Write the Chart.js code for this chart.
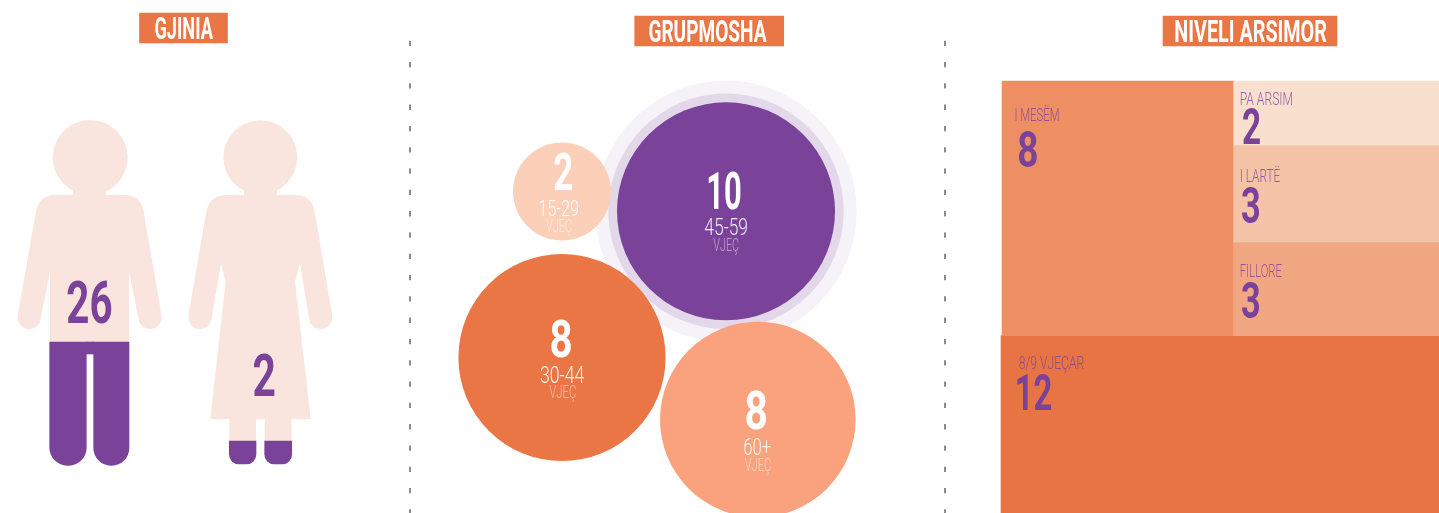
<!DOCTYPE html>
<html><head><meta charset="utf-8">
<style>html,body{margin:0;padding:0;background:#fff;overflow:hidden}#c{display:block}</style>
<script src="https://cdn.jsdelivr.net/npm/chart.js@4/dist/chart.umd.min.js"></script>
</head><body><div style="width:1439px;height:513px"><canvas id="c" width="1439" height="513"></canvas></div>
<script>
// ---- values ----
const panelTitles = ['GJINIA','GRUPMOSHA','NIVELI ARSIMOR'];
const genderValues = [26, 2];
const ageLabels = ['15-29','45-59','30-44','60+'];
const ageValues = [2, 10, 8, 8];
const ageUnit = 'VJEÇ';
const eduLabels = ['I MESËM','PA ARSIM','I LARTË','FILLORE','8/9 VJEÇAR'];
const eduValues = [8, 2, 3, 3, 12];

// ---- layout (pixel-mapped axis units) ----
const ORANGE='#EA7645', PURPLE='#7A4299', PEACH='#FAE5DE';
const titleBoxes=[[139.5,227.5,13,43],[634.7,783.7,16,46],[1163,1337,16,46]];
const titleText=[[155,213,17,39],[649,766.7,20,42],[1175,1327,20,42]];
const ageCircles=[[562,191.5,49,'#FCCFB9'],[726,211.3,109,PURPLE],[562,357.5,103.6,ORANGE],[757.8,419.5,97.8,'#F9A27D']];
const eduRects=[[1002,1233,81,335.7,'#EE8F63'],[1233,1439,81,145,'#F9DFCD'],[1233,1439,145,242,'#F5C3A8'],[1233,1439,242,335.7,'#F2A783'],[1001,1439,335.7,513,'#E97443']];
const dividers=[410,945];

const rectSet=(x0,x1,y0,y1,color,radius,extra)=>Object.assign({type:'bar',grouped:false,
  data:[{x:(x0+x1)/2,y:[y0,y1]}],barThickness:x1-x0,backgroundColor:color,borderWidth:0,borderSkipped:false,
  borderRadius:radius||0},extra||{});
const bottomR=r=>({topLeft:0,topRight:0,bottomLeft:r,bottomRight:r});

const datasets=[];
// panel title boxes
titleBoxes.forEach((b,i)=>datasets.push(rectSet(b[0],b[1],b[2],b[3],ORANGE,0,{label:panelTitles[i]})));
// treemap
eduRects.forEach((r,i)=>datasets.push(rectSet(r[0],r[1],r[2],r[3],r[4],0,{label:eduLabels[i]})));
// dividers
dividers.forEach(x=>datasets.push({type:'line',data:[{x,y:40.7},{x,y:513}],borderColor:'#666',borderWidth:1.5,borderDash:[5.3,16],pointRadius:0,fill:false}));
// people heads
datasets.push({type:'bubble',data:[{x:90.2,y:157.5,r:37.5},{x:260.3,y:157.3,r:37}],backgroundColor:PEACH,borderWidth:0,order:0});
// purple clothing, as filled part of the pictograms
datasets.push(rectSet(49.7,86.3,342,465.3,PURPLE,bottomR(18),{label:'M'}));
datasets.push(rectSet(93.7,129,342,465.3,PURPLE,bottomR(18)));
datasets.push(rectSet(86,94,342,354,PURPLE));
datasets.push(rectSet(229.3,256,441,464,PURPLE,bottomR(10)));
datasets.push(rectSet(264.7,291.7,441,464,PURPLE,bottomR(10)));
// halo rings + age bubbles (drawn in listed order)
datasets.push({type:'bubble',order:-1,data:[{x:726,y:211.3,r:130.7}],backgroundColor:'#F5F2F8',borderWidth:0});
datasets.push({type:'bubble',order:-2,data:[{x:726,y:211.3,r:117.7}],backgroundColor:'#E2D8E9',borderWidth:0});
ageCircles.forEach((c,i)=>datasets.push({type:'bubble',order:-3-i,label:ageLabels[i],data:[{x:c[0],y:c[1],r:c[2]}],backgroundColor:c[3],borderWidth:0}));
datasets.forEach(d=>{ if(d.order===undefined) d.order=1; });

// condensed text: fit real text to a measured ink box
function fit(ctx,str,x0,x1,top,bottom,color,weight){
  const size=(bottom-top)/0.711;
  ctx.save();
  ctx.font=(weight||400)+' '+size+'px Roboto';
  ctx.textBaseline='alphabetic';ctx.textAlign='left';
  const m=ctx.measureText(str);
  const ink=m.actualBoundingBoxRight+m.actualBoundingBoxLeft;
  const sx=(x1-x0)/ink;
  ctx.translate(x0,bottom);ctx.scale(sx,1);
  ctx.fillStyle=color;
  ctx.fillText(str,m.actualBoundingBoxLeft,0);
  ctx.restore();
}
const peoplePlugin={id:'people',beforeDatasetsDraw(chart){
  const {ctx,scales:{x,y}}=chart;
  const X=v=>x.getPixelForValue(v),Y=v=>y.getPixelForValue(v);
  ctx.save();ctx.fillStyle=PEACH;
  // man
  ctx.beginPath();
  ctx.moveTo(X(73),Y(188));ctx.lineTo(X(106),Y(188));ctx.lineTo(X(106),Y(195));ctx.lineTo(X(125),Y(195));
  ctx.quadraticCurveTo(X(141),Y(195),X(144),Y(213));
  ctx.lineTo(X(161.4),Y(314.5));
  ctx.arc(X(150),Y(317.3),11.7,-0.17,Math.PI-0.2,false);
  ctx.lineTo(X(129),Y(271.7));ctx.lineTo(X(129),Y(343));ctx.lineTo(X(50),Y(343));ctx.lineTo(X(50),Y(271.7));
  ctx.lineTo(X(40.4),Y(320));
  ctx.arc(X(29.2),Y(317.3),11.7,0.2,Math.PI+0.17,false);
  ctx.lineTo(X(35.7),Y(213));
  ctx.quadraticCurveTo(X(39),Y(195),X(55),Y(195));
  ctx.lineTo(X(73),Y(195));ctx.closePath();ctx.fill();
  // woman
  ctx.beginPath();
  ctx.moveTo(X(244),Y(188));ctx.lineTo(X(277),Y(188));ctx.lineTo(X(277),Y(195));ctx.lineTo(X(295),Y(195));
  ctx.quadraticCurveTo(X(312),Y(195),X(315),Y(213));
  ctx.lineTo(X(332),Y(314.5));
  ctx.arc(X(320.6),Y(317.3),11.7,-0.17,Math.PI-0.2,false);
  ctx.lineTo(X(300),Y(263.3));ctx.lineTo(X(295),Y(281.7));ctx.lineTo(X(310.7),Y(419));
  ctx.lineTo(X(291.7),Y(419));ctx.lineTo(X(291.7),Y(442));ctx.lineTo(X(264.7),Y(442));ctx.lineTo(X(264.7),Y(419));
  ctx.lineTo(X(256),Y(419));ctx.lineTo(X(256),Y(442));ctx.lineTo(X(229.3),Y(442));ctx.lineTo(X(229.3),Y(419));
  ctx.lineTo(X(210.3),Y(419));ctx.lineTo(X(225.7),Y(281.7));ctx.lineTo(X(221),Y(263.3));
  ctx.lineTo(X(211.3),Y(320));
  ctx.arc(X(200),Y(317.3),11.7,0.2,Math.PI+0.17,false);
  ctx.lineTo(X(206),Y(213));
  ctx.quadraticCurveTo(X(209),Y(195),X(226.7),Y(195));
  ctx.lineTo(X(244),Y(195));ctx.closePath();ctx.fill();
  ctx.restore();
}};
const textPlugin={id:'labels',afterDatasetsDraw(chart){
  const {ctx,scales:{x,y}}=chart;
  const T=(s,a,b,c,d,col,w)=>fit(ctx,s,x.getPixelForValue(a),x.getPixelForValue(b),y.getPixelForValue(c),y.getPixelForValue(d),col,w);
  titleText.forEach((t,i)=>T(panelTitles[i],t[0],t[1],t[2],t[3],'#fff',700));
  T(String(genderValues[0]),67.7,111.7,280,322.7,PURPLE,700);
  T(String(genderValues[1]),254,274.7,354,396,PURPLE,700);
  const nums=[[554,572.3,153.3,190],[708.7,740.7,172.3,209.3],[551,571,320,357.3],[746,766,391.7,429.3]];
  const labs=[[539,578.7,200,216],[704.3,747.3,218.3,235],[540.7,584.3,366,382.7],[744,771,438.3,455]];
  const units=[[546,571.7,219,231.7],[713.3,739,237.3,250.7],[549.3,576,385.7,398.3],[744.7,771,458.3,470.7]];
  ageValues.forEach((v,i)=>{
    T(String(v),...nums[i],'#fff',700);
    T(ageLabels[i],...labs[i],'rgba(255,255,255,.9)',300);
    T(ageUnit,...units[i],'rgba(255,255,255,.5)',300);
  });
  const eduL=[[1015,1059,108.3,121.3],[1240.3,1292.3,92,105.3],[1240.3,1280,169.3,182.3],[1240.3,1281.7,264.3,277.3],[1018.7,1084,356.3,369]];
  const eduN=[[1018.7,1037,130.7,166.7],[1242.7,1260,108.3,144],[1241.7,1259.3,187.3,223.3],[1241.7,1259.3,282.3,318.3],[1017.3,1051.7,374,410]];
  eduValues.forEach((v,i)=>{
    T(eduLabels[i],...eduL[i],'rgba(122,67,152,.8)',300);
    T(String(v),...eduN[i],PURPLE,700);
  });
}};
document.fonts.load('300 20px Roboto').then(()=>document.fonts.load('700 20px Roboto')).finally(()=>{
new Chart(document.getElementById('c'),{
  data:{datasets},
  plugins:[peoplePlugin,textPlugin],
  options:{responsive:false,animation:false,events:[],
    layout:{padding:0,autoPadding:false},
    plugins:{legend:{display:false},tooltip:{enabled:false},title:{display:false}},
    scales:{
      x:{type:'linear',min:0,max:1439,display:false,offset:false},
      y:{type:'linear',min:0,max:513,reverse:true,display:false}
    }}
});
});
</script></body></html>
